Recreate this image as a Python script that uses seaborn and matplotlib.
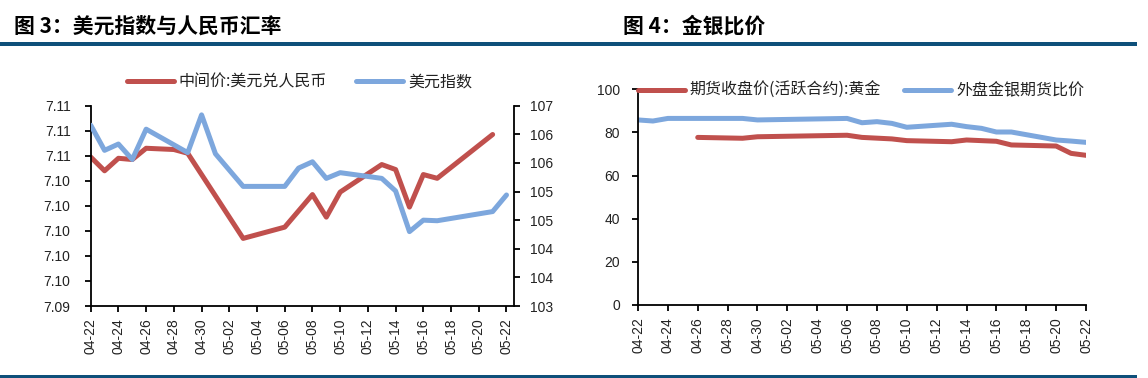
import math
import matplotlib
matplotlib.use("Agg")
import matplotlib.pyplot as plt
import matplotlib.dates as mdates
from matplotlib.patches import Rectangle
from matplotlib.lines import Line2D
from matplotlib.ticker import FixedLocator, FuncFormatter
import numpy as np
import pandas as pd
import seaborn as sns

# ---------------- data ----------------
YEAR = "2024"

title_left = "图 3：美元指数与人民币汇率"
title_right = "图 4：金银比价"

fx_label = "中间价:美元兑人民币"
fx_dates = ["04-22", "04-23", "04-24", "04-25", "04-26", "04-28", "04-29", "05-03",
            "05-06", "05-08", "05-09", "05-10", "05-13", "05-14", "05-15", "05-16",
            "05-17", "05-21"]
fx_mid = [7.1059, 7.1048, 7.1058, 7.1057, 7.1066, 7.1065, 7.1062, 7.0994,
          7.1003, 7.1029, 7.1011, 7.1031, 7.1053, 7.1049, 7.1019, 7.1045,
          7.1042, 7.1077]

dxy_label = "美元指数"
dxy_dates = ["04-22", "04-23", "04-24", "04-25", "04-26", "04-29", "04-30", "05-01",
             "05-03", "05-06", "05-07", "05-08", "05-09", "05-10", "05-13", "05-14",
             "05-15", "05-16", "05-17", "05-21", "05-22"]
dxy = [106.16, 105.72, 105.83, 105.56, 106.09, 105.68, 106.34, 105.66,
       105.09, 105.09, 105.41, 105.52, 105.23, 105.33, 105.23, 105.01,
       104.30, 104.50, 104.49, 104.65, 104.94]

gold_label = "期货收盘价(活跃合约):黄金"
gold_dates = ["04-26", "04-29", "04-30", "05-06", "05-07", "05-09", "05-10", "05-13",
              "05-14", "05-16", "05-17", "05-20", "05-21", "05-22"]
gold_ratio = [77.7, 77.3, 78.0, 78.7, 77.7, 77.0, 76.2, 75.7,
              76.5, 75.9, 74.2, 73.7, 70.3, 69.4]

ext_label = "外盘金银期货比价"
ext_dates = ["04-22", "04-23", "04-24", "04-29", "04-30", "05-06", "05-07", "05-08",
             "05-09", "05-10", "05-13", "05-14", "05-15", "05-16", "05-17", "05-20",
             "05-21", "05-22"]
ext_ratio = [85.8, 85.3, 86.5, 86.5, 85.8, 86.5, 84.5, 85.0,
             84.2, 82.4, 83.8, 82.7, 81.9, 80.2, 80.2, 76.5,
             76.0, 75.4]

x_start, x_end = "04-22", "05-22"
fx_ticks = [7.094, 7.096, 7.098, 7.100, 7.102, 7.104, 7.106, 7.108, 7.110]
dxy_ticks = [103.0, 103.5, 104.0, 104.5, 105.0, 105.5, 106.0, 106.5]
ratio_ticks = [0, 20, 40, 60, 80, 100]

# ---------------- style ----------------
RED = "#C0504D"
BLUE = "#7DA7DD"
BAR = "#0E507A"
LW = 3.6
W, H = 1148, 378
CJK = ["Noto Sans CJK SC", "DejaVu Sans"]

sns.set_style("ticks")
plt.rcParams["font.family"] = ["Liberation Sans", "Noto Sans CJK SC", "DejaVu Sans"]


def to_dt(lst):
    return pd.to_datetime([f"{YEAR}-{d}" for d in lst])


fig = plt.figure(figsize=(W / 100, H / 100), dpi=100)


def fx_box(l, r, b, t):
    return [l / W, 1 - b / H, (r - l) / W, (b - t) / H]


ax1 = fig.add_axes(fx_box(90.7, 514, 306, 105.7))
ax1r = ax1.twinx()
ax2 = fig.add_axes(fx_box(638, 1086, 305, 89.3))

line_kw = dict(lw=LW, solid_joinstyle="round", solid_capstyle="round")

sns.lineplot(data=pd.DataFrame({"d": to_dt(fx_dates), "v": fx_mid}), x="d", y="v",
             ax=ax1, color=RED, legend=False, **line_kw)
sns.lineplot(data=pd.DataFrame({"d": to_dt(dxy_dates), "v": dxy}), x="d", y="v",
             ax=ax1r, color=BLUE, legend=False, **line_kw)
sns.lineplot(data=pd.DataFrame({"d": to_dt(gold_dates), "v": gold_ratio}), x="d", y="v",
             ax=ax2, color=RED, legend=False, **line_kw)
sns.lineplot(data=pd.DataFrame({"d": to_dt(ext_dates), "v": ext_ratio}), x="d", y="v",
             ax=ax2, color=BLUE, legend=False, **line_kw)

xs = to_dt([x_start])[0]
xe = to_dt([x_end])[0]
xticks = pd.date_range(xs, xe, freq="2D")

for a in (ax1, ax1r, ax2):
    a.set_xlabel("")
    a.set_ylabel("")
    a.grid(False)

for a, xmax in ((ax1, xe + pd.Timedelta(hours=13)), (ax2, xe)):
    a.set_xlim(xs, xmax)
    a.xaxis.set_major_locator(FixedLocator(mdates.date2num(xticks)))
    a.xaxis.set_major_formatter(mdates.DateFormatter("%m-%d"))
    a.tick_params(axis="x", rotation=90, direction="out", length=4, width=1.3,
                  color="black", labelsize=10, pad=5, labelcolor="#222222")
    for lab in a.get_xticklabels():
        lab.set_ha("center")

ax1r.set_xlim(ax1.get_xlim())

ax1.set_ylim(fx_ticks[0], fx_ticks[-1])
ax1.yaxis.set_major_locator(FixedLocator(fx_ticks))
ax1.yaxis.set_major_formatter(FuncFormatter(lambda v, p: f"{v:.2f}"))
ax1.tick_params(axis="y", direction="out", length=4, width=1.3, color="black",
                labelsize=10, pad=10.5, labelcolor="#222222")

ax1r.set_ylim(dxy_ticks[0], dxy_ticks[-1])
ax1r.yaxis.set_major_locator(FixedLocator(dxy_ticks))
ax1r.yaxis.set_major_formatter(FuncFormatter(lambda v, p: f"{math.floor(v + 0.5 + 1e-9):d}"))
ax1r.tick_params(axis="y", direction="out", length=4, width=1.3, color="black",
                 labelsize=10, pad=7.5, labelcolor="#222222")

ax2.set_ylim(ratio_ticks[0], ratio_ticks[-1])
ax2.yaxis.set_major_locator(FixedLocator(ratio_ticks))
ax2.tick_params(axis="y", direction="out", length=4, width=1.3, color="black",
                labelsize=10, pad=9, labelcolor="#222222")

for sp in ("top", "right"):
    ax1.spines[sp].set_visible(False)
    ax2.spines[sp].set_visible(False)
for sp in ("top", "left", "bottom"):
    ax1r.spines[sp].set_visible(False)
for a, sides in ((ax1, ("left", "bottom")), (ax1r, ("right",)), (ax2, ("left", "bottom"))):
    for sp in sides:
        a.spines[sp].set_color("black")
        a.spines[sp].set_linewidth(1.3)
ax1.set_facecolor("none")
ax1r.set_facecolor("none")

# legends
leg_prop = {"family": CJK, "size": 11.5}


def handle(c):
    return Line2D([], [], color=c, lw=LW, solid_capstyle="round")


fig.legend([handle(RED), handle(BLUE)], [fx_label, dxy_label], loc="center left",
           bbox_to_anchor=(126.7 / W, 1 - 81.7 / H), ncol=2, frameon=False,
           handlelength=2.94, handletextpad=0.3, columnspacing=1.85,
           borderpad=0, borderaxespad=0, prop=leg_prop, labelcolor="#222222")
fig.legend([handle(RED), handle(BLUE)], [gold_label, ext_label], loc="center left",
           bbox_to_anchor=(638 / W, 1 - 90.7 / H), ncol=2, frameon=False,
           handlelength=2.94, handletextpad=0.3, columnspacing=1.45,
           borderpad=0, borderaxespad=0, prop=leg_prop, labelcolor="#222222")

# titles and bars
fig.text(14 / W, 1 - 26 / H, title_left, fontsize=15, fontweight="bold",
         ha="left", va="center", family=CJK, color="black")
fig.text(623 / W, 1 - 26 / H, title_right, fontsize=15, fontweight="bold",
         ha="left", va="center", family=CJK, color="black")
fig.add_artist(Rectangle((0, 1 - 46 / H), 1137 / W, 4 / H, transform=fig.transFigure,
                         facecolor=BAR, edgecolor="none"))
fig.add_artist(Rectangle((0, 0), 1137 / W, 3 / H, transform=fig.transFigure,
                         facecolor=BAR, edgecolor="none"))

fig.savefig("out.png", dpi=100)
